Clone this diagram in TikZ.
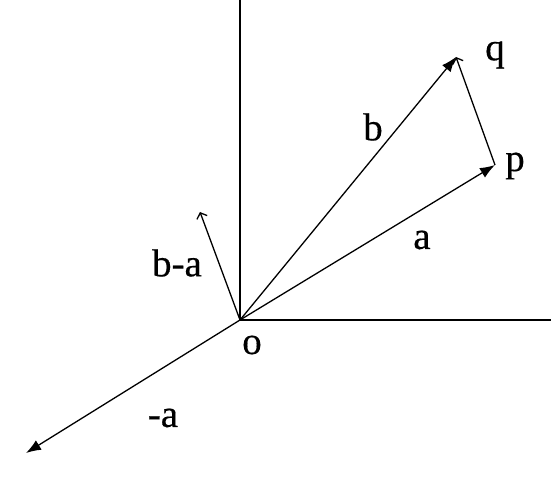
\documentclass[tikz,border=0pt]{standalone}
\usepackage{fontspec}
\setmainfont{Liberation Serif}
\newfontfamily\lblfont[FakeBold=0.4]{Liberation Serif}
\usetikzlibrary{arrows.meta}
\begin{document}
\begin{tikzpicture}[x=1pt,y=-1pt,
  vec/.style={line width=1.3pt,-{Latex[length=15pt,width=11pt]}},
  openvec/.style={line width=1.3pt,-{Straight Barb[length=5pt,width=11pt,line width=1.3pt]}},
  axis/.style={line width=1.6pt},
  lbl/.style={font=\lblfont\fontsize{39}{44}\selectfont,inner sep=0pt}]
\useasboundingbox (0,0) rectangle (551,478);
\coordinate (o) at (240,320);
\coordinate (ytop) at (240,0);
\coordinate (xend) at (551,320);
\coordinate (p) at (495,165);
\coordinate (q) at (456,57);
\coordinate (ba) at (200,212);
\coordinate (na) at (26,453);
\draw[axis] (ytop) -- (o) -- (xend);
\draw[vec] (o) -- (p);
\draw[vec] (o) -- (q);
\draw[vec] (o) -- (na);
\draw[openvec] (p) -- (q);
\draw[openvec] (o) -- (ba);
\node[lbl] (lq) at (495,55) {q};
\node[lbl] (lp) at (515,166) {p};
\node[lbl] (lb) at (373,127) {b};
\node[lbl] (la) at (422,240) {a};
\node[lbl] (lba) at (177,263) {b-a};
\node[lbl] (lo) at (252,345) {o};
\node[lbl] (lna) at (163,418) {-a};
\end{tikzpicture}
\end{document}
